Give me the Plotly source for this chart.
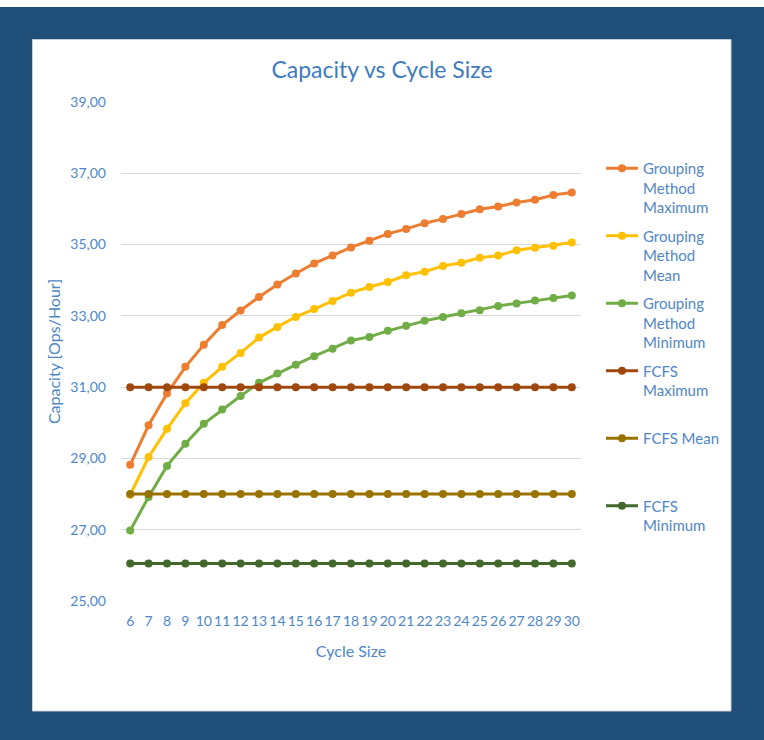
import plotly.graph_objects as go

# Cycle sizes on the category axis
cycle_size = list(range(6, 31))

# Capacity in operations per hour for each method
grouping_max = [28.82, 29.93, 30.82, 31.57, 32.19, 32.74, 33.15, 33.53, 33.88, 34.19,
                34.47, 34.69, 34.92, 35.11, 35.30, 35.44, 35.60, 35.72, 35.86, 35.99,
                36.07, 36.18, 36.26, 36.39, 36.46]
grouping_mean = [27.98, 29.04, 29.83, 30.55, 31.12, 31.57, 31.96, 32.39, 32.69, 32.97,
                 33.19, 33.42, 33.65, 33.81, 33.95, 34.14, 34.24, 34.40, 34.49, 34.63,
                 34.69, 34.84, 34.91, 34.97, 35.06]
grouping_min = [26.98, 27.92, 28.79, 29.41, 29.97, 30.37, 30.75, 31.12, 31.38, 31.63,
                31.87, 32.08, 32.31, 32.41, 32.58, 32.72, 32.86, 32.97, 33.07, 33.16,
                33.28, 33.35, 33.43, 33.50, 33.57]
fcfs_max = [31.0] * len(cycle_size)
fcfs_mean = [28.0] * len(cycle_size)
fcfs_min = [26.05] * len(cycle_size)

series_names = [
    "Grouping<br>Method<br>Maximum",
    "Grouping<br>Method<br>Mean",
    "Grouping<br>Method<br>Minimum",
    "FCFS<br>Maximum<br> ",
    "FCFS Mean<br> <br> ",
    "FCFS<br>Minimum<br> ",
]
series_values = [grouping_max, grouping_mean, grouping_min, fcfs_max, fcfs_mean, fcfs_min]
series_colors = ["#ED7D31", "#FFC000", "#70AD47", "#9E480E", "#997300", "#43682B"]

y_ticks = [25, 27, 29, 31, 33, 35, 37, 39]
y_tick_text = ["25,00", "27,00", "29,00", "31,00", "33,00", "35,00", "37,00", "39,00"]

FONT = "Lato"
TITLE_COLOR = "#3F7BBE"
TEXT_COLOR = "#4F87C6"
FRAME_BLUE = "#1F4E79"

fig = go.Figure()
for i, (name, vals, col) in enumerate(zip(series_names, series_values, series_colors)):
    fig.add_trace(go.Scatter(
        x=cycle_size, y=vals, name=name, mode="lines+markers",
        line=dict(color=col, width=3),
        marker=dict(color=col, size=8),
        legendgroup=f"g{i}",
    ))

# Plot area spans pixels x 121..581 and y 102..601 of a 764x740 page
L, R, T, B = 121, 183, 102, 139
W, H = 764, 740
pw, ph = W - L - R, H - T - B


def px_x(px):
    return (px - L) / pw


def px_y(py):
    return (H - B - py) / ph


fig.update_layout(
    width=W, height=H,
    margin=dict(l=L, r=R, t=T, b=B, pad=0),
    paper_bgcolor="white",
    plot_bgcolor="white",
    font=dict(family=FONT, color=TEXT_COLOR, size=13),
    title=dict(text="Capacity vs Cycle Size", xref="container", x=382 / W,
               xanchor="center", yref="container", y=1 - 70 / H, yanchor="middle",
               font=dict(family=FONT, size=23, color=TITLE_COLOR)),
    showlegend=True,
    legend=dict(x=px_x(601), xanchor="left", y=px_y(152), yanchor="top",
                valign="top", itemwidth=32, tracegroupgap=6,
                bgcolor="rgba(0,0,0,0)",
                font=dict(family=FONT, size=15, color=TEXT_COLOR)),
    xaxis=dict(range=[5.5, 30.5], tickmode="array", tickvals=cycle_size,
               showgrid=False, zeroline=False, showline=False,
               ticks="", ticklabelstandoff=10,
               tickfont=dict(family=FONT, size=14, color=TEXT_COLOR),
               title=dict(text="Cycle Size", standoff=17,
                          font=dict(family=FONT, size=16, color=TEXT_COLOR))),
    yaxis=dict(range=[25, 39], tickmode="array", tickvals=y_ticks, ticktext=y_tick_text,
               showgrid=True, gridcolor="#D9D9D9", gridwidth=1, zeroline=False,
               showline=False, ticks="", ticklabelstandoff=14,
               tickfont=dict(family=FONT, size=14, color=TEXT_COLOR),
               title=dict(text="Capacity [Ops/Hour]", standoff=5,
                          font=dict(family=FONT, size=16, color=TEXT_COLOR))),
    shapes=[
        dict(type="rect", xref="paper", yref="paper", layer="below",
             x0=px_x(0), x1=px_x(W), y0=px_y(H), y1=px_y(7),
             fillcolor=FRAME_BLUE, line=dict(width=0)),
        dict(type="rect", xref="paper", yref="paper", layer="below",
             x0=px_x(32.5), x1=px_x(731), y0=px_y(711), y1=px_y(39.5),
             fillcolor="white", line=dict(color="#C9CED6", width=1)),
    ],
)

fig.write_html("out.html")
